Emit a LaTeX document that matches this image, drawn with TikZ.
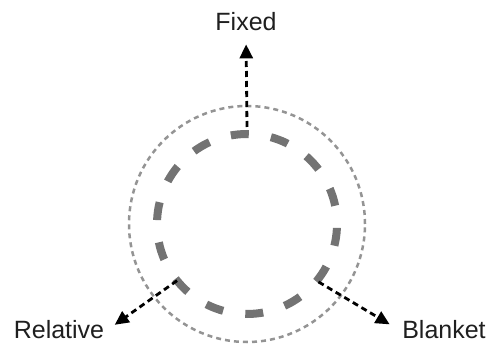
\documentclass[tikz,border=0pt]{standalone}
\usepackage{fontspec}
\setmainfont{Liberation Sans}
\usepackage{tikz}
\usepackage{xcolor}
\usetikzlibrary{arrows.meta, positioning, calc}

\begin{document}
\begin{tikzpicture}[x=1pt, y=-1pt,
    ring/.style={black!42, line width=2.5pt, dash pattern=on 5pt off 4.05pt},
    slot/.style={black!55, line width=8pt, dash pattern=on 18pt off 22.4pt, dash phase=22pt},
    pointer/.style={-{Triangle[length=14pt,width=13pt]}, line width=2.8pt, dash pattern=on 6pt off 4pt},
    tag/.style={font=\fontsize{25}{30}\selectfont, text=black!88, inner sep=3pt}]
    \useasboundingbox (0,0) rectangle (492,344);
    \coordinate (ctr) at (247,224);
    \draw[ring] (ctr) circle (118pt);
    \draw[slot] (ctr) circle (90pt);
    \node[tag] (fixed) at (246,22) {Fixed};
    \node[tag] (relative) at (59,330) {Relative};
    \node[tag] (blanket) at (444,330) {Blanket};
    \coordinate (fixedstart) at ($(ctr)+(90:97pt)$);
    \coordinate (relativestart) at ($(ctr)+(219:90pt)$);
    \coordinate (blanketstart) at ($(ctr)+(-39:92pt)$);
    \draw[pointer, shorten >=10pt] (fixedstart) -- (fixed.south);
    \draw[pointer, shorten >=9pt] (relativestart) -- (relative.east);
    \draw[pointer, shorten >=11pt] (blanketstart) -- (blanket.west);
  \end{tikzpicture}
\end{document}
